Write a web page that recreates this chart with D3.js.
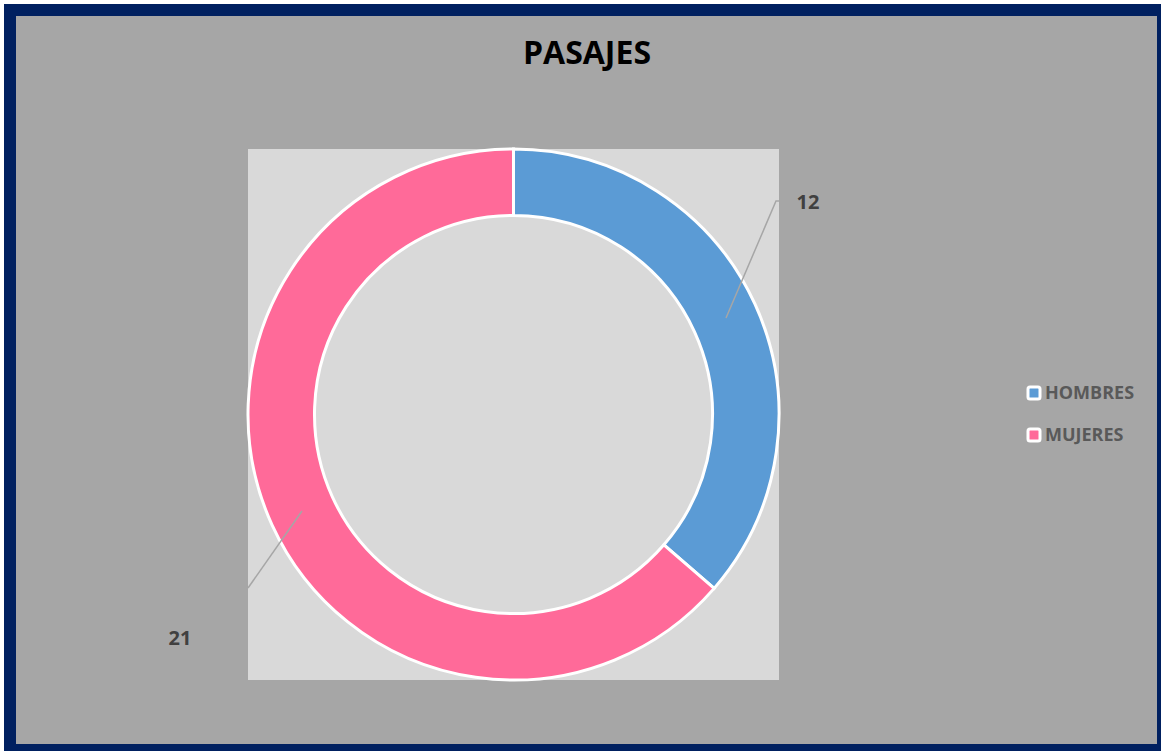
<!DOCTYPE html>
<html><head><meta charset="utf-8">
<script src="https://cdn.jsdelivr.net/npm/d3@7"></script>
<style>body{margin:0;background:#fff}svg{display:block}</style>
</head><body>
<svg id="c" width="1161" height="751"></svg>
<script>
const categories = ["HOMBRES", "MUJERES"];
const values = [12, 21];
const colors = ["#5B9BD5", "#FF6A99"];
const title = "PASAJES";

const svg = d3.select("#c");
const font = "'Open Sans', 'Liberation Sans', sans-serif";
svg.append("rect").attr("x",10).attr("y",10).attr("width",1153).attr("height",740)
  .attr("fill","#A6A6A6").attr("stroke","#002060").attr("stroke-width",12);

// plot area
svg.append("rect").attr("x",248).attr("y",149).attr("width",531).attr("height",531).attr("fill","#D9D9D9");

svg.append("text").attr("x",587).attr("y",64).attr("text-anchor","middle")
  .attr("font-family",font).attr("font-weight","bold").attr("font-size",32).attr("fill","#000").text(title);

const cx = 513.5, cy = 414.5, rOut = 265.5, rIn = 199;
const pie = d3.pie().sort(null).value(d=>d)(values);
const arc = d3.arc().innerRadius(rIn).outerRadius(rOut);
const g = svg.append("g").attr("transform",`translate(${cx},${cy})`);
g.selectAll("path").data(pie).join("path").attr("d",arc)
  .attr("fill",(d,i)=>colors[i]).attr("stroke","#fff").attr("stroke-width",3);

// data labels with leader lines
const labelPos = [{x:808,y:202,anchor:"middle",line:[[726,318],[776,201],[781,201]]},
                  {x:180,y:638,anchor:"middle",line:[[302,511],[248,588]]}];
pie.forEach((d,i)=>{
  const p = labelPos[i];
  svg.append("path").attr("d",d3.line()(p.line)).attr("fill","none").attr("stroke","#A6A6A6").attr("stroke-width",1.5);
  svg.append("text").attr("x",p.x).attr("y",p.y).attr("dy","0.35em").attr("text-anchor",p.anchor)
    .attr("font-family",font).attr("font-weight","bold").attr("font-size",20).attr("fill","#404040").text(d.data);
});

// legend
const lg = svg.append("g");
categories.forEach((c,i)=>{
  const y = 393 + i*42;
  lg.append("rect").attr("x",1028).attr("y",y-6).attr("width",12).attr("height",12).attr("rx",2)
    .attr("fill",colors[i]).attr("stroke","#fff").attr("stroke-width",3);
  lg.append("text").attr("x",1045).attr("y",y).attr("dy","0.35em")
    .attr("font-family",font).attr("font-weight","bold").attr("font-size",18).attr("fill","#595959").text(c);
});
</script>
</body></html>
